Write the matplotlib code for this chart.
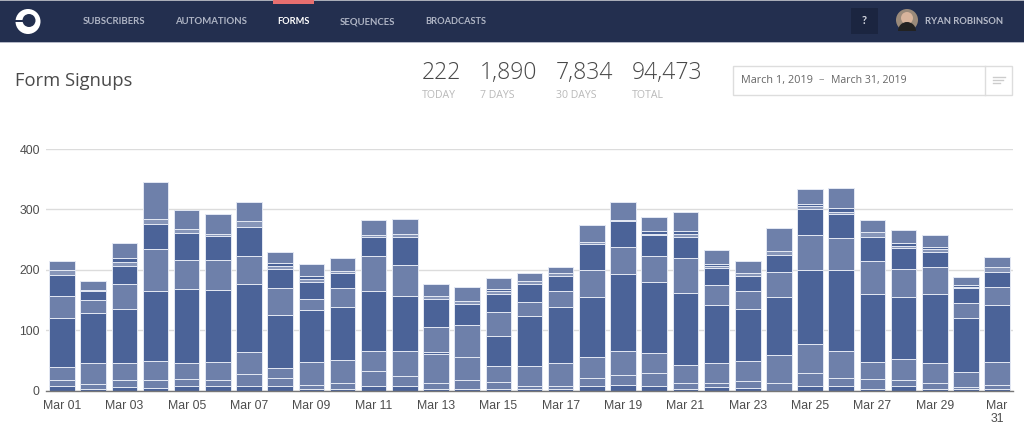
import matplotlib
matplotlib.use('Agg')
import matplotlib.pyplot as plt
from matplotlib.patches import Rectangle, Circle, Wedge
import numpy as np

days = list(range(1, 32))

# stacked series, bottom to top
s1 = [7, 3, 6, 4, 8, 7, 7, 7, 3, 3, 8, 8, 2, 2, 3, 2, 2, 7, 9, 7, 2, 5, 4, 0, 7, 8, 3, 8, 2, 3, 3]
s2 = [10, 7, 12, 14, 11, 10, 21, 14, 6, 10, 25, 16, 11, 15, 11, 6, 5, 13, 16, 22, 11, 8, 11, 13, 22, 12, 16, 10, 11, 3, 6]
s3 = [22, 35, 27, 31, 26, 31, 35, 17, 38, 38, 33, 42, 48, 39, 27, 33, 39, 36, 41, 33, 30, 33, 34, 46, 48, 46, 28, 34, 33, 25, 39]
s4 = [81, 83, 90, 116, 123, 119, 113, 87, 87, 88, 98, 90, 3, 0, 49, 82, 92, 99, 127, 117, 119, 95, 86, 96, 122, 133, 113, 103, 114, 89, 94]
s5 = [37, 22, 41, 70, 48, 49, 46, 45, 17, 31, 58, 52, 41, 52, 40, 24, 27, 45, 45, 44, 58, 33, 29, 42, 59, 53, 55, 47, 44, 25, 29]
s6 = [34, 15, 31, 40, 45, 40, 49, 31, 29, 25, 32, 46, 47, 36, 30, 30, 25, 42, 42, 34, 34, 29, 26, 27, 42, 41, 39, 34, 26, 24, 25]
s7 = [8, 2, 6, 9, 7, 4, 9, 6, 5, 3, 4, 5, 5, 5, 4, 4, 4, 4, 3, 3, 5, 4, 5, 7, 5, 3, 8, 4, 4, 3, 8]
s8 = [0, 0, 7, 0, 0, 0, 0, 4, 4, 0, 0, 0, 0, 0, 4, 0, 0, 0, 0, 4, 5, 3, 0, 0, 4, 6, 0, 4, 3, 3, 0]
s9 = [15, 14, 25, 61, 31, 32, 33, 18, 20, 21, 25, 25, 19, 23, 19, 14, 10, 28, 30, 23, 32, 23, 19, 38, 24, 33, 21, 22, 21, 13, 17]

series = [s1, s2, s3, s4, s5, s6, s7, s8, s9]
dark = '#4b6398'
light = '#6e80aa'
colors = [dark, light, light, dark, light, dark, '#8796b9', dark, light]

tick_days = list(range(1, 31, 2))
y_ticks = [0, 100, 200, 300, 400]

W, H = 1024, 433
fig = plt.figure(figsize=(W / 100, H / 100), dpi=100)

# chart
ax = fig.add_axes([46 / W, 1 - 390.5 / H, (1013 - 46) / W, (390.5 - 149) / H])
bottom = np.zeros(len(days))
for vals, c in zip(series, colors):
    ax.bar(days, vals, bottom=bottom, width=0.82, color=c, edgecolor='#e3e8f3', linewidth=0.7, zorder=3)
    bottom += np.array(vals)

ax.set_xlim(0.487, 31.51)
ax.set_ylim(0, 400)
ax.set_yticks(y_ticks)
ax.set_xticks(tick_days + [31])
ax.set_xticklabels(['Mar %02d' % d for d in tick_days] + ['Mar\n31'])
ax.tick_params(length=0, labelsize=8.8, labelcolor='#4d4d4d', labelfontfamily='Liberation Sans')
ax.tick_params(axis='x', pad=6.5)
ax.tick_params(axis='y', pad=4.5)
ax.grid(axis='y', color='#dcdcdc', linewidth=1)
ax.set_axisbelow(True)
for side in ['top', 'left', 'right']:
    ax.spines[side].set_visible(False)
ax.spines['bottom'].set_color('#777777')
ax.spines['bottom'].set_linewidth(1)
ax.spines['bottom'].set_zorder(5)

# page header, in pixels
top = fig.add_axes([0, 0, 1, 1], zorder=-1)
top.set_xlim(0, W)
top.set_ylim(H, 0)
top.axis('off')

top.add_patch(Rectangle((0, 0), W, 42, color='#232f4f', lw=0))
top.add_patch(Rectangle((0, 0), W, 1, color='#a9adb8', lw=0))
top.add_patch(Rectangle((0, 41.5), W, 1, color='#b4b8c6', lw=0))
top.add_patch(Rectangle((273, 0), 41, 3.5, color='#e76f6f', lw=0))

# logo ring, hole sits a bit high with a notch on the left
top.add_patch(Circle((28, 21.5), 12.5, color='white', lw=0))
top.add_patch(Circle((29, 20.5), 6.5, color='#232f4f', lw=0))
top.add_patch(Rectangle((15, 19.5), 9, 2.5, color='#232f4f', lw=0))

nav = ['SUBSCRIBERS', 'AUTOMATIONS', 'FORMS', 'SEQUENCES', 'BROADCASTS']
nav_x = [83, 175, 277, 340, 425]
for name, x in zip(nav, nav_x):
    col = 'white' if name == 'FORMS' else '#aeb4c4'
    size = 6.7 if name in ['FORMS', 'BROADCASTS'] else 6.9
    top.text(x, 24.5, name, color=col, fontsize=size, fontweight='bold', family='Lato', va='baseline', ha='left')

top.add_patch(Rectangle((851, 8), 27, 26, color='#1b2540', lw=0))
top.text(864.5, 21, '?', color='#d5d8e0', fontsize=8, fontweight='bold', family='Lato', ha='center', va='center')
top.add_patch(Circle((907, 20), 11, color='#9a8a7a', lw=0))
top.add_patch(Circle((907, 18), 6, color='#d8b49c', lw=0))
top.add_patch(Wedge((907, 31), 9, 180, 360, color='#222222', lw=0))
top.text(925, 23.5, 'RYAN ROBINSON', color='#b6bbc9', fontsize=6.8, fontweight='bold', family='Lato', va='baseline')

top.text(15, 81, 'Form Signups', color='#4a4a4a', fontsize=13.2, family='Open Sans', va='center')

stats = ['222', '1,890', '7,834', '94,473']
stat_labels = ['TODAY', '7 DAYS', '30 DAYS', 'TOTAL']
stat_x = [422, 480, 556, 632]
for val, lab, x in zip(stats, stat_labels, stat_x):
    top.text(x, 73, val, color='#484848', fontsize=16.6, family='Open Sans', fontweight='light', va='center')
    top.text(x, 95.5, lab, color='#b9b9b9', fontsize=7.6, family='Open Sans', va='center')

# date box
top.add_patch(Rectangle((733, 65.5), 279, 29.5, facecolor='white', edgecolor='#dddddd', lw=1))
top.plot([985, 985], [65.5, 95], color='#dddddd', lw=1)
top.text(741, 80, 'March 1, 2019', color='#666666', fontsize=7.8, family='Open Sans', va='center')
top.text(819, 80, '\u2013', color='#888888', fontsize=7.8, family='Open Sans', va='center')
top.text(831, 80, 'March 31, 2019', color='#666666', fontsize=7.6, family='Open Sans', va='center')
for y, x2 in zip([77, 80, 83], [1005, 1003, 1000]):
    top.plot([993, x2], [y, y], color='#cccccc', lw=1)

fig.savefig('out.png', dpi=100)
